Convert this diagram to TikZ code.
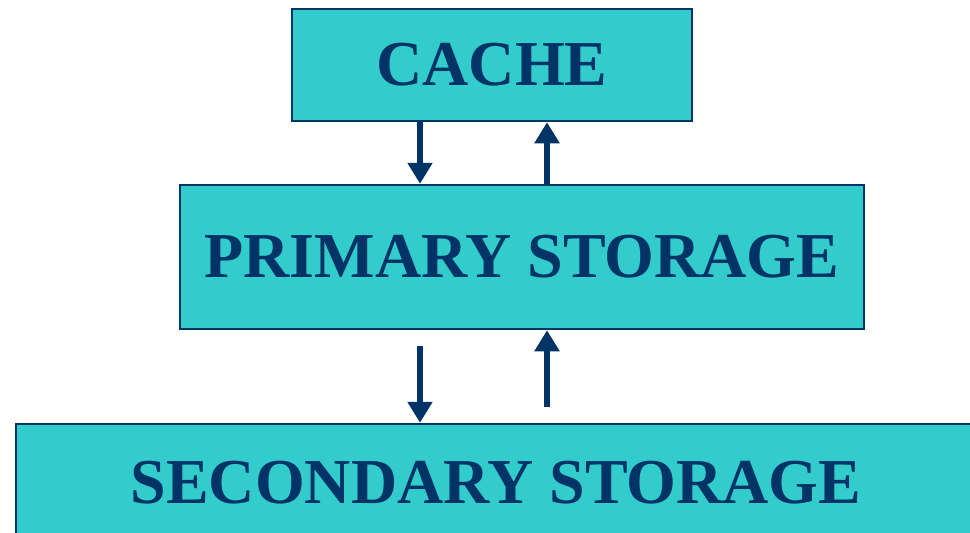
\documentclass[tikz,border=0pt]{standalone}
\usepackage{fontspec}
\setmainfont{Liberation Serif}
\usepackage{xcolor}
\usepackage{tikz}
\usetikzlibrary{arrows.meta, positioning}

\definecolor{boxfill}{HTML}{33CCCC}
\definecolor{navy}{HTML}{003366}

\begin{document}
\begin{tikzpicture}[x=1pt, y=-1pt]
		\tikzset{
			box/.style={rectangle, draw=navy, line width=2.5pt, fill=boxfill, align=center,
			text=navy, font=\fontsize{64}{64}\selectfont\bfseries, inner sep=0pt},
			link/.style={draw=navy, line width=6.5pt, -{Triangle[width=24pt, length=21pt]}},
		}
		\useasboundingbox (0,0) rectangle (970,533);

		\node[box, minimum width=400pt, minimum height=112pt](cache) at (492,65){CACHE};
		\node[box, minimum width=684pt, minimum height=144pt](primary) at (522,257){PRIMARY STORAGE};
		\node[box, minimum width=960pt, minimum height=118pt](secondary) at (496,483){SECONDARY STORAGE};

		\coordinate(l) at (420,0);
		\coordinate(r) at (547,0);

		\draw[link](cache.south -| l) -- (primary.north -| l);
		\draw[link](primary.north -| r) -- (cache.south -| r);

		\draw[link]([yshift=-16pt]primary.south -| l) -- (secondary.north -| l);
		\draw[link]([yshift=16pt]secondary.north -| r) -- (primary.south -| r);

	\end{tikzpicture}
\end{document}
